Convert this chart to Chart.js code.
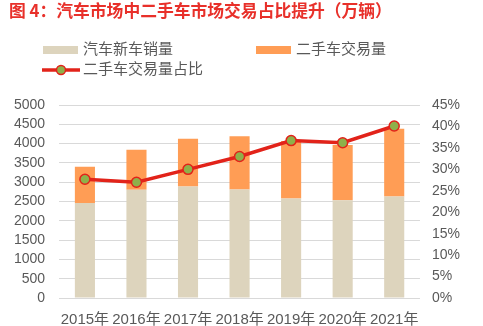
<!DOCTYPE html>
<html>
<head>
<meta charset="utf-8">
<script src="https://cdn.jsdelivr.net/npm/chart.js@4.4.0/dist/chart.umd.min.js"></script>
<style>
  html, body { margin: 0; padding: 0; background: #fff; }
  #box { width: 483px; height: 326px; }
</style>
</head>
<body>
<div id="box"><canvas id="myChart"></canvas></div>
<script>

const years = ['2015年', '2016年', '2017年', '2018年', '2019年', '2020年', '2021年']
const newCarSales = [2460, 2803, 2888, 2808, 2577, 2531, 2627]
const usedCarTrades = [941, 1039, 1240, 1382, 1492, 1434, 1758]
const usedShare = [27.7, 27.0, 30.0, 33.0, 36.7, 36.2, 40.1]

const leftTicks = [0, 500, 1000, 1500, 2000, 2500, 3000, 3500, 4000, 4500, 5000]
const rightTicks = [0, 5, 10, 15, 20, 25, 30, 35, 40, 45]

const chartTitle = '图 4：汽车市场中二手车市场交易占比提升（万辆）'

const FONT = "'Liberation Sans', Arial, 'Noto Sans CJK SC', sans-serif"
const textGray = '#595959'


// title + two-column legend above the plot
const headerPlugin = {
  id: 'header',
  afterDraw(chart){
    const ctx = chart.ctx
    const ds = chart.data.datasets
    ctx.save()
    ctx.textBaseline = 'middle'

    ctx.font = "bold 16.8px 'Noto Sans CJK SC', sans-serif"
    ctx.fillStyle = '#e8302a'
    ctx.fillText(chartTitle, 9, 11)

    ctx.font = "15px " + FONT

    // bars
    let spots = [[43, 50, ds[1]], [256, 50, ds[2]]]
    spots.forEach(s => {
      ctx.fillStyle = s[2].backgroundColor
      ctx.fillRect(s[0], s[1] - 4, 35, 8)
      ctx.fillStyle = textGray
      ctx.fillText(s[2].label, s[0] + 40, s[1])
    })

    // line with marker
    const ln = ds[0]
    ctx.strokeStyle = ln.borderColor
    ctx.lineWidth = 3.5
    ctx.beginPath()
    ctx.moveTo(42, 70)
    ctx.lineTo(80, 70)
    ctx.stroke()
    ctx.beginPath()
    ctx.arc(61, 70, 4.5, 0, Math.PI * 2)
    ctx.fillStyle = ln.pointBackgroundColor
    ctx.fill()
    ctx.lineWidth = 1.5
    ctx.strokeStyle = ln.pointBorderColor
    ctx.stroke()
    ctx.fillStyle = textGray
    ctx.fillText(ln.label, 83, 70)
    ctx.restore()
  }
}


let dsets = [
  {
    type: 'line',
    label: '二手车交易量占比',
    data: usedShare,
    yAxisID: 'y2',
    borderColor: '#e2231a',
    borderWidth: 3.5,
    pointRadius: 5,
    pointBackgroundColor: '#8fb04a',
    pointBorderColor: '#e2231a',
    pointBorderWidth: 1.5,
    tension: 0,
    order: 0
  },
  {
    label: '汽车新车销量',
    data: newCarSales,
    backgroundColor: '#ddd4bd',
    stack: 's',
    order: 1
  },
  {
    label: '二手车交易量',
    data: usedCarTrades,
    backgroundColor: '#ff9d55',
    stack: 's',
    order: 1
  }
]


new Chart(
  document.getElementById('myChart'),
  {
    type: 'bar',
    data: {
      labels: years,
      datasets: dsets,
    },
    plugins: [headerPlugin],
    options: {
      responsive: true,
      maintainAspectRatio: false,
      animation: false,
      datasets: {
        bar: {
          barPercentage: 0.39,
          categoryPercentage: 1
        }
      },
      layout: {
        padding: { left: 0, right: 11, top: 105, bottom: -16 }
      },
      plugins: {
        legend: { display: false },
        tooltip: { enabled: false },
        title: { display: false }
      },
      scales: {
        x: {
          stacked: true,
          grid: { display: false, drawTicks: false },
          border: { display: false },
          ticks: { color: textGray, font: { size: 15, family: FONT }, padding: 13, maxRotation: 0, autoSkip: false }
        },
        y: {
          stacked: true,
          min: 0,
          max: 5000,
          afterBuildTicks: axis => { axis.ticks = leftTicks.map(v => ({ value: v })) },
          grid: { color: '#d9d9d9', drawTicks: false, lineWidth: 1 },
          border: { display: false },
          ticks: { color: textGray, font: { size: 14, family: FONT }, padding: 14, autoSkip: false, callback: v => String(v) }
        },
        y2: {
          position: 'right',
          min: 0,
          max: 45,
          afterBuildTicks: axis => { axis.ticks = rightTicks.map(v => ({ value: v })) },
          grid: { drawOnChartArea: false, drawTicks: false },
          border: { display: false },
          ticks: { color: textGray, font: { size: 14, family: FONT }, padding: 12, autoSkip: false, callback: v => v + '%' }
        }
      }
    }
  }
)

</script>
</body>
</html>
